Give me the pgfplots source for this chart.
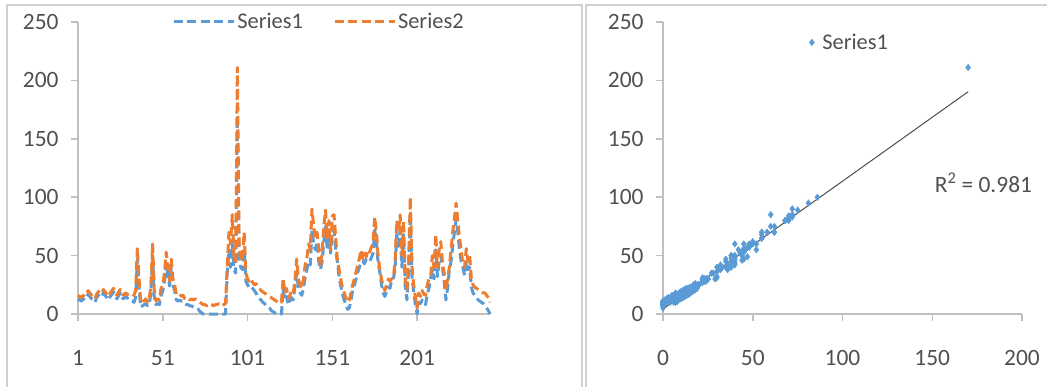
\documentclass[border=0pt]{standalone}
\usepackage{pgfplots}
\pgfplotsset{compat=1.18}
\usepackage{pgfplotstable}
\usepackage{fontspec}
\setmainfont{Carlito}
\definecolor{sblue}{HTML}{5B9BD5}
\definecolor{sorange}{HTML}{ED7D31}
\definecolor{txt}{HTML}{505050}
\definecolor{axc}{HTML}{BFBFBF}
\definecolor{frm}{HTML}{D0D0D0}

\pgfplotstableread{
i s1 s2
1 13 16
2 12 15
3 11 14
4 13 16
5 12 15
6 14 17
7 17 20
8 15 18
9 13 16
10 12 15
11 10 13
12 14 17
13 16 19
14 17 20
15 15 18
16 18 21
17 16 19
18 14 17
19 12 15
20 15 18
21 17 20
22 19 22
23 15 18
24 13 16
25 16 19
26 18 21
27 14 17
28 13 16
29 15 18
30 14 17
31 12 16
32 11 16
33 11 17
34 10 16
35 14 20
36 47 57
37 22 30
38 6 10
39 7 12
40 8 11
41 9 13
42 7 10
43 8 12
44 18 25
45 50 60
46 14 20
47 8 11
48 9 13
49 8 12
50 16 22
51 20 25
52 28 35
53 44 53
54 33 40
55 24 28
56 40 47
57 25 30
58 20 25
59 12 17
60 11 16
61 12 17
62 11 15
63 11 16
64 9 13
65 8 12
66 8 13
67 7 12
68 7 13
69 6 12
70 6 13
71 5 12
72 4 11
73 2 10
74 1 9
75 0 8
76 0 8
77 0 7
78 0 8
79 0 9
80 0 8
81 0 7
82 0 8
83 0 8
84 0 9
85 0 8
86 0 7
87 0 8
88 0 9
89 35 40
90 55 70
91 40 60
92 60 85
93 38 50
94 35 45
95 170 211
96 48 60
97 40 45
98 38 50
99 55 70
100 28 35
101 25 30
102 23 28
103 24 30
104 22 27
105 20 25
106 18 26
107 15 23
108 13 22
109 12 20
110 10 19
111 9 18
112 7 17
113 6 16
114 5 15
115 3 14
116 2 13
117 1 12
118 0 11
119 0 10
120 0 11
121 0 10
122 22 31
123 12 18
124 15 22
125 8 13
126 11 16
127 14 20
128 12 18
129 25 30
130 35 47
131 22 30
132 18 25
133 16 22
134 22 30
135 32 42
136 38 48
137 45 60
138 42 55
139 72 90
140 60 75
141 55 65
142 62 70
143 45 55
144 38 40
145 45 55
146 62 75
147 75 89
148 55 65
149 68 80
150 52 55
151 70 84
152 72 85
153 55 65
154 44 46
155 32 38
156 24 30
157 17 22
158 12 18
159 8 14
160 4 10
161 5 12
162 12 18
163 20 25
164 25 30
165 30 36
166 36 42
167 40 48
168 45 55
169 45 47
170 43 52
171 47 49
172 46 55
173 45 53
174 48 57
175 52 60
176 72 83
177 62 70
178 44 50
179 36 38
180 25 30
181 18 24
182 15 20
183 19 25
184 23 30
185 22 28
186 29 30
187 30 31
188 38 45
189 68 80
190 58 70
191 72 85
192 40 50
193 68 80
194 24 30
195 12 20
196 38 45
197 86 100
198 32 40
199 18 25
200 8 15
201 0 5
202 10 18
203 9 15
204 12 20
205 10 17
206 8 16
207 17 25
208 22 30
209 30 32
210 38 50
211 30 40
212 55 68
213 32 40
214 45 55
215 50 62
216 40 43
217 27 35
218 12 20
219 22 30
220 37 40
221 45 55
222 58 70
223 70 82
224 81 95
225 70 80
226 55 65
227 45 55
228 40 42
229 33 40
230 45 56
231 38 45
232 40 50
233 23 30
234 18 25
235 16 23
236 14 22
237 12 21
238 11 20
239 10 19
240 9 18
241 7 18
242 5 16
243 3 14
244 0 10
}\data

\pgfplotsset{
  common/.style={
    scale only axis,
    anchor=south west,
    height=292bp,
    ymin=0, ymax=250,
    ytick={0,50,100,150,200,250},
    axis lines*=left,
    axis line style={axc, line width=1.5bp},
    tick style={axc, line width=1.5bp},
    major tick length=7bp,
    tick align=outside,
    ticklabel style={font=\fontsize{23.5}{27}\selectfont, text=txt},
    xticklabel style={yshift=-26bp},
    yticklabel style={xshift=-9bp},
    /pgf/number format/assume math mode=true,
    legend style={draw=none, fill=none, font=\fontsize{22.5}{26}\selectfont, text=txt},
    clip=false,
  }
}

\begin{document}
\begin{tikzpicture}[x=1bp,y=1bp]
\useasboundingbox (0,0) rectangle (1047,386);
\draw[frm, line width=1.5bp] (7,-2) -- (7,381) -- (582,381) -- (582,-2);
\draw[frm, line width=1.5bp] (586,-2) -- (586,381) -- (1050,381);

\begin{axis}[common,
  at={(78bp,72bp)},
  width=412bp,
  xmin=1, xmax=244,
  xtick={1,51,101,151,201},
  legend columns=2,
  legend style={at={(0.585,1.0)}, anchor=center,
    /tikz/every even column/.append style={column sep=28bp}},
  legend image code/.code={\draw[#1] (0bp,0bp) -- (60bp,0bp);},
]
\addplot[sblue, line width=3bp, line join=round, dash pattern=on 9bp off 4.5bp] table[x=i, y=s1] {\data};
\addlegendentry{Series1}
\addplot[sorange, line width=3bp, line join=round, dash pattern=on 9bp off 4.5bp] table[x=i, y=s2] {\data};
\addlegendentry{Series2}
\end{axis}

\begin{axis}[common,
  at={(663bp,72bp)},
  width=359bp,
  xmin=0, xmax=200,
  xtick={0,50,100,150,200},
  legend style={at={(0.52,0.93)}, anchor=center,
    /tikz/every odd column/.append style={column sep=6bp}},
]
\addplot[only marks, mark=diamond*, mark size=3.3bp, sblue] table[x=s1, y=s2] {\data};
\addlegendentry{Series1}
\addplot[black!70, line width=1bp, forget plot] coordinates {(0,4.3) (170,190.3)};
\node[font=\fontsize{23.5}{27}\selectfont, text=txt] at (axis cs:178.5,112) {R\textsuperscript{2} = 0.981};
\end{axis}
\end{tikzpicture}
\end{document}
